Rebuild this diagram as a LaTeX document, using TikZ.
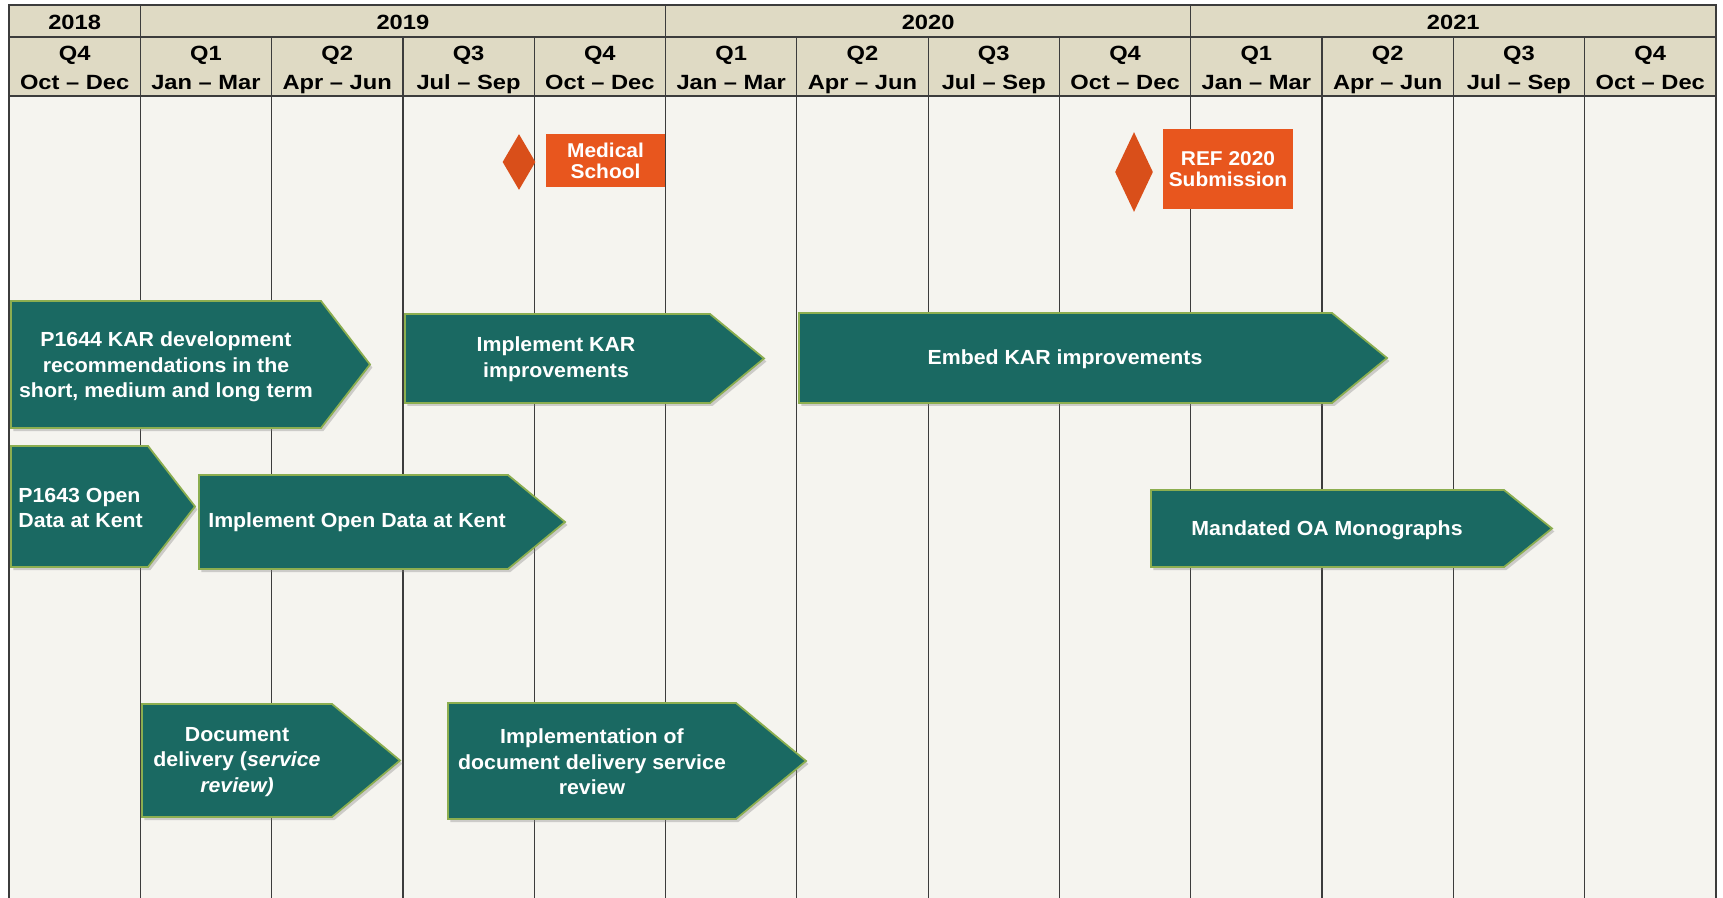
\documentclass[tikz,border=0pt]{standalone}
\usepackage{fontspec}
\setmainfont{Liberation Sans}
\newfontfamily\headfont[Ligatures=TeX, FakeStretch=1.15]{Liberation Sans}
\newfontfamily\phasefont[Ligatures=TeX, FakeStretch=1.045]{Liberation Sans}
\usetikzlibrary{shapes.geometric,shadows}
\definecolor{phasegreen}{RGB}{26,105,98}
\definecolor{phaseedge}{RGB}{140,174,80}
\definecolor{headfill}{RGB}{223,218,196}
\definecolor{gridfill}{RGB}{245,244,239}
\definecolor{mileorange}{RGB}{232,86,30}
\definecolor{milediamond}{RGB}{217,79,26}
\definecolor{gridline}{RGB}{60,60,60}

\tikzset{
  phase/.style={fill=phasegreen, draw=phaseedge, line width=0.9pt, line join=miter,
    drop shadow={shadow xshift=1.2pt, shadow yshift=-1.5pt, opacity=0.35}},
  phasetext/.style={text=white, align=center, font=\phasefont\fontsize{10.2}{12.75}\selectfont\bfseries},
  headtext/.style={anchor=base, inner sep=0pt, font=\headfont\fontsize{10.3}{12}\selectfont\bfseries},
  milestone/.style={diamond, fill=milediamond, inner sep=0pt},
  milebox/.style={fill=mileorange, text=white, align=center, inner sep=0pt,
    font=\phasefont\fontsize{10}{10.5}\selectfont\bfseries},
  grid/.style={draw=gridline, line width=0.6pt}
}

% phase arrow: left, top, body end, tip, bottom
\newcommand{\phasebox}[5]{%
  \draw[phase] (#1,#2) -- (#3,#2) -- (#4,{(#2+#5)/2}) -- (#3,#5) -- (#1,#5) -- cycle;}

\begin{document}
\begin{tikzpicture}[x=0.5pt,y=-0.5pt]
\useasboundingbox (0,0) rectangle (1723,898);

% table background
\fill[headfill] (9,5) rectangle (1716,96);
\fill[gridfill] (9,96) rectangle (1716,898);
\draw[grid] (9,898) -- (9,5) -- (1716,5) -- (1716,898);
\draw[grid] (9,37) -- (1716,37);
\draw[grid] (9,96) -- (1716,96);
\foreach \i in {1,...,12}{
  \pgfmathsetmacro\cx{9+131.3*\i}
  \draw[grid] (\cx,37) -- (\cx,898);
}
\foreach \i in {1,5,9}{
  \pgfmathsetmacro\cx{9+131.3*\i}
  \draw[grid] (\cx,5) -- (\cx,37);
}

% years
\node (y2018) [headtext] at (74.6,30) {2018};
\node (y2019) [headtext] at (402.9,30) {2019};
\node (y2020) [headtext] at (928.1,30) {2020};
\node (y2021) [headtext] at (1453.3,30) {2021};

% quarters
\foreach \q/\m [count=\i from 0] in {Q4/Oct -- Dec, Q1/Jan -- Mar, Q2/Apr -- Jun, Q3/Jul -- Sep,
    Q4/Oct -- Dec, Q1/Jan -- Mar, Q2/Apr -- Jun, Q3/Jul -- Sep, Q4/Oct -- Dec,
    Q1/Jan -- Mar, Q2/Apr -- Jun, Q3/Jul -- Sep, Q4/Oct -- Dec}{
  \pgfmathsetmacro\cx{9+131.3*(\i+0.5)}
  \node (quarter\i) [headtext] at (\cx,61) {\q};
  \node (months\i) [headtext] at (\cx,90) {\m};
}

% milestones
\node (medmark) [milestone, minimum width=16.5pt, minimum height=28pt] at (519,162) {};
\node (medical) [milebox, minimum width=59.5pt, minimum height=26.5pt] at (605.5,160.5) {Medical\\School};
\node (refmark) [milestone, minimum width=19pt, minimum height=40pt] at (1134,172) {};
\node (ref) [milebox, minimum width=65pt, minimum height=40pt] at (1228,169) {REF 2020\\Submission};

% KAR work
\phasebox{11}{301}{321}{370}{428}
\node (kardev) [phasetext] at (166,367) {P1644 KAR development\\recommendations in the\\short, medium and long term};
\phasebox{405}{314}{710}{764}{403}
\node (karimpl) [phasetext] at (556,359) {Implement KAR\\improvements};
\phasebox{799}{313}{1332}{1387}{403}
\node (karembed) [phasetext] at (1065,359) {Embed KAR improvements};

% open data and monographs
\phasebox{11}{446}{148}{195}{567}
\node (opendata) [phasetext, align=left, anchor=west, inner sep=0pt] at (18,508) {P1643 Open\\Data at Kent};
\phasebox{199}{475}{508}{565}{569}
\node (openimpl) [phasetext] at (357,522) {Implement Open Data at Kent};
\phasebox{1151}{490}{1504}{1552}{567}
\node (oamono) [phasetext] at (1327,530) {Mandated OA Monographs};

% document delivery
\phasebox{142}{704}{332}{400}{817}
\node (docdel) [phasetext] at (237,762) {Document\\delivery (\textit{service}\\\textit{review)}};
\phasebox{448}{703}{736}{806}{819}
\node (docimpl) [phasetext] at (592,762) {Implementation of\\document delivery service\\review};
\end{tikzpicture}
\end{document}
